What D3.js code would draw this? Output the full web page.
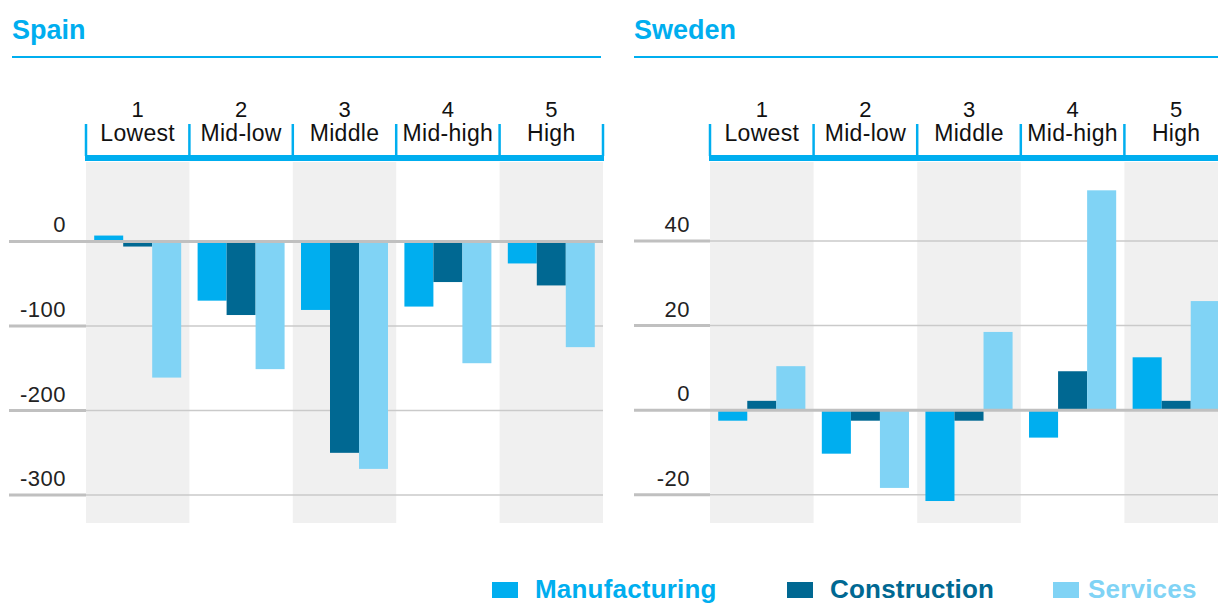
<!DOCTYPE html>
<html>
<head>
<meta charset="utf-8">
<script src="https://cdn.jsdelivr.net/npm/d3@7"></script>
<style>
  body { margin: 0; background: #fff; }
  svg { display: block; font-family: "Liberation Sans", Arial, sans-serif; }
</style>
</head>
<body>
<svg id="chart" width="1218" height="604"></svg>
<script>
// Income group categories
const rankNums = ["1", "2", "3", "4", "5"];
const rankLabels = ["Lowest", "Mid-low", "Middle", "Mid-high", "High"];
const series = ["Manufacturing", "Construction", "Services"];
const colors = ["#00aeef", "#006892", "#80d3f5"];

// Spain values
const spainMfg = [7, -70, -81, -77, -26];
const spainCon = [-6, -87, -250, -48, -52];
const spainSvc = [-161, -151, -269, -144, -125];
const spainTicks = [0, -100, -200, -300];

// Sweden values
const swedenMfg = [-2.5, -10.3, -21.5, -6.5, 12.5];
const swedenCon = [2.2, -2.5, -2.5, 9.2, 2.2];
const swedenSvc = [10.4, -18.4, 18.5, 52, 25.8];
const swedenTicks = [40, 20, 0, -20];

const svg = d3.select("#chart");
const plotTop = 162, plotBottom = 523;

// Draw one country panel
function drawPanel(opt) {
    const g = svg.append("g");
    const x = d3.scaleBand().domain(rankNums).range([opt.x0, opt.x1]);
    const xs = d3.scaleBand().domain(series).range([0, x.bandwidth()]).paddingOuter(0.283);
    const y = d3.scaleLinear().domain(opt.domain).range([plotBottom, plotTop]);

    // Title and underline
    g.append("text")
        .attr("x", opt.titleX)
        .attr("y", 39)
        .attr("fill", "#00aeef")
        .attr("font-size", 27)
        .attr("font-weight", "bold")
        .text(opt.title);
    g.append("rect")
        .attr("x", opt.titleX)
        .attr("y", 56)
        .attr("width", opt.lineEnd - opt.titleX)
        .attr("height", 2)
        .attr("fill", "#00aeef");

    // Shaded bands
    g.selectAll(".band")
        .data(rankNums.filter((d, i) => i % 2 == 0))
        .join("rect")
        .attr("x", d => x(d))
        .attr("y", plotTop)
        .attr("width", x.bandwidth())
        .attr("height", plotBottom - plotTop)
        .attr("fill", "#f0f0f0");

    // Header bracket
    g.append("rect")
        .attr("x", opt.x0 - 1)
        .attr("y", 155)
        .attr("width", opt.x1 - opt.x0 + 2)
        .attr("height", 6)
        .attr("fill", "#00aeef");
    g.selectAll(".tick-v")
        .data(rankNums.map(d => x(d)).concat([opt.x1]))
        .join("line")
        .attr("x1", d => d)
        .attr("x2", d => d)
        .attr("y1", 124)
        .attr("y2", 156)
        .attr("stroke", "#00aeef")
        .attr("stroke-width", 2.5);
    g.selectAll(".num")
        .data(rankNums)
        .join("text")
        .attr("x", d => x(d) + x.bandwidth() / 2)
        .attr("y", 117)
        .attr("text-anchor", "middle")
        .attr("font-size", 22)
        .attr("fill", "#111")
        .text(d => d);
    g.selectAll(".lab")
        .data(rankLabels)
        .join("text")
        .attr("x", (d, i) => x(rankNums[i]) + x.bandwidth() / 2)
        .attr("y", 141)
        .attr("text-anchor", "middle")
        .attr("font-size", 23)
        .attr("letter-spacing", 0.3)
        .attr("fill", "#111")
        .text(d => d);

    // Gridlines (behind bars)
    g.selectAll(".grid")
        .data(opt.ticks.filter(t => t != 0))
        .join("line")
        .attr("x1", opt.x0)
        .attr("x2", opt.x1)
        .attr("y1", d => y(d))
        .attr("y2", d => y(d))
        .attr("stroke", "#cacaca")
        .attr("stroke-width", 1.5);
    g.selectAll(".stub")
        .data(opt.ticks.filter(t => t != 0))
        .join("line")
        .attr("x1", opt.gridX)
        .attr("x2", opt.x0)
        .attr("y1", d => y(d))
        .attr("y2", d => y(d))
        .attr("stroke", "#c0c0c0")
        .attr("stroke-width", 3);

    // Bars
    const rows = rankNums.map((r, i) => series.map((s, j) => ({ r: r, s: s, v: opt.values[j][i], c: colors[j] })));
    g.selectAll(".grp")
        .data(rows)
        .join("g")
        .attr("transform", d => "translate(" + x(d[0].r) + ",0)")
        .selectAll("rect")
        .data(d => d)
        .join("rect")
        .attr("x", d => xs(d.s))
        .attr("width", xs.bandwidth())
        .attr("y", d => y(Math.max(0, d.v)))
        .attr("height", d => Math.abs(y(d.v) - y(0)))
        .attr("fill", d => d.c);

    // Zero line on top
    g.append("line")
        .attr("x1", opt.gridX)
        .attr("x2", opt.x1)
        .attr("y1", y(0))
        .attr("y2", y(0))
        .attr("stroke", "#c0c0c0")
        .attr("stroke-width", 3);

    // Tick labels
    g.selectAll(".tl")
        .data(opt.ticks)
        .join("text")
        .attr("x", opt.labelX)
        .attr("y", d => y(d) - 9)
        .attr("text-anchor", "end")
        .attr("font-size", 22)
        .attr("letter-spacing", 0.5)
        .attr("fill", "#222")
        .text(d => d);
}

drawPanel({
    title: "Spain", titleX: 12, lineEnd: 601,
    x0: 86, x1: 603, gridX: 9, labelX: 66,
    domain: [-333, 94], ticks: spainTicks,
    values: [spainMfg, spainCon, spainSvc]
});
drawPanel({
    title: "Sweden", titleX: 634, lineEnd: 1218,
    x0: 710, x1: 1228, gridX: 634, labelX: 690,
    domain: [-26.7, 58.7], ticks: swedenTicks,
    values: [swedenMfg, swedenCon, swedenSvc]
});

// Legend
const legX = [492, 787, 1053];
const leg = svg.selectAll(".leg")
    .data(series)
    .join("g")
    .attr("transform", (d, i) => "translate(" + legX[i] + ",0)");
leg.append("rect")
    .attr("x", 0)
    .attr("y", 582)
    .attr("width", 26)
    .attr("height", 16)
    .attr("fill", (d, i) => colors[i]);
leg.append("text")
    .attr("x", (d, i) => [43, 43, 35][i])
    .attr("y", 598)
    .attr("font-size", 26)
    .attr("font-weight", "bold")
    .attr("letter-spacing", 0.2)
    .attr("fill", (d, i) => colors[i])
    .text(d => d);
</script>
</body>
</html>
